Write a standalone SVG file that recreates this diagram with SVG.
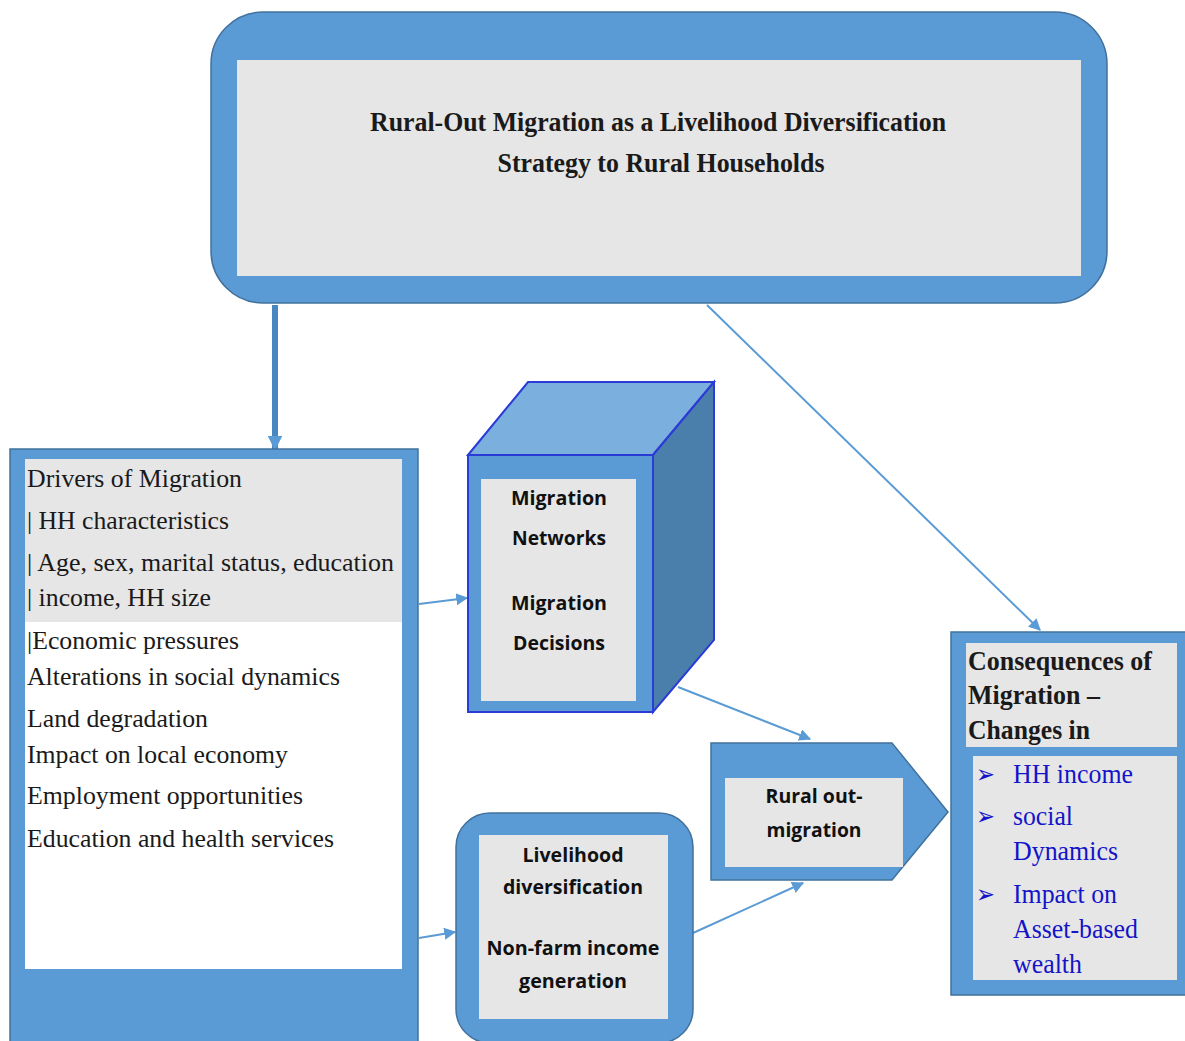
<svg xmlns="http://www.w3.org/2000/svg" width="1185" height="1041" viewBox="0 0 1185 1041">
<style>
.outer{fill:#5b9bd5;stroke:#41719c;stroke-width:1.5}
.gray{fill:#e6e6e6}
.serif{font-family:"Liberation Serif","Times New Roman",serif;fill:#1a1a1a}
.bold{font-weight:bold}
.sans{font-family:"Open Sans","Liberation Sans",sans-serif;font-weight:bold;font-size:20px;fill:#111;text-anchor:middle}
.blue{fill:#1414c8}
.conn{stroke:#5b9bd5;stroke-width:2;fill:none;marker-end:url(#ah)}
</style>
<defs>
<marker id="ah" viewBox="0 0 10 10" refX="9" refY="5" markerWidth="6" markerHeight="6" orient="auto" markerUnits="strokeWidth">
<path d="M0,0 L10,5 L0,10 z" fill="#5b9bd5"/>
</marker>
<marker id="ahs" viewBox="0 0 10 10" refX="9" refY="5" markerWidth="2.4" markerHeight="2.4" orient="auto" markerUnits="strokeWidth">
<path d="M0,0 L10,5 L0,10 z" fill="#5b9bd5"/>
</marker>
</defs>
<rect width="1185" height="1041" fill="#ffffff"/>

<g id="connectors">
<line x1="275" y1="305" x2="275" y2="449" stroke="#4a86c0" stroke-width="6" marker-end="url(#ahs)"/>
<line x1="707" y1="305" x2="1040" y2="630" class="conn"/>
<line x1="419" y1="604" x2="467" y2="598" class="conn"/>
<line x1="678" y1="687" x2="810" y2="739" class="conn"/>
<line x1="419" y1="938" x2="455" y2="932" class="conn"/>
<line x1="693" y1="933" x2="803" y2="883" class="conn"/>
</g>

<g id="title">
<rect x="211" y="12" width="896" height="291" rx="52" class="outer"/>
<rect x="237" y="60" width="844" height="216" class="gray"/>
<text x="658" y="131" class="serif bold" font-size="28" text-anchor="middle" textLength="576" lengthAdjust="spacingAndGlyphs">Rural-Out Migration as a Livelihood Diversification</text>
<text x="661" y="172" class="serif bold" font-size="28" text-anchor="middle" textLength="327" lengthAdjust="spacingAndGlyphs">Strategy to Rural Households</text>
</g>

<g id="drivers">
<rect x="10" y="449" width="408" height="600" class="outer"/>
<rect x="25" y="459" width="377" height="163" class="gray"/>
<rect x="25" y="622" width="377" height="347" fill="#ffffff"/>
<g class="serif" font-size="26">
<text x="27" y="487" textLength="215" lengthAdjust="spacingAndGlyphs">Drivers of Migration</text>
<text x="27" y="529" textLength="202" lengthAdjust="spacingAndGlyphs">| HH characteristics</text>
<text x="27" y="571" textLength="367" lengthAdjust="spacingAndGlyphs">| Age, sex, marital status, education</text>
<text x="27" y="606" textLength="184" lengthAdjust="spacingAndGlyphs">| income, HH size</text>
<text x="27" y="649" textLength="212" lengthAdjust="spacingAndGlyphs">|Economic pressures</text>
<text x="27" y="685" textLength="313" lengthAdjust="spacingAndGlyphs">Alterations in social dynamics</text>
<text x="27" y="727" textLength="181" lengthAdjust="spacingAndGlyphs">Land degradation</text>
<text x="27" y="763" textLength="261" lengthAdjust="spacingAndGlyphs">Impact on local economy</text>
<text x="27" y="804" textLength="276" lengthAdjust="spacingAndGlyphs">Employment opportunities</text>
<text x="27" y="847" textLength="307" lengthAdjust="spacingAndGlyphs">Education and health services</text>
</g>
</g>

<g id="networks">
<polygon points="468,455 528,382 714,382 653,455" fill="#7aafde" stroke="#2b3bd6" stroke-width="2"/>
<polygon points="653,455 714,382 714,640 653,712" fill="#4a7eab" stroke="#2b3bd6" stroke-width="2"/>
<rect x="468" y="455" width="185" height="257" fill="#5b9bd5" stroke="#2b3bd6" stroke-width="2"/>
<rect x="481" y="479" width="155" height="222" class="gray"/>
<text x="559" y="505" class="sans" textLength="96" lengthAdjust="spacingAndGlyphs">Migration</text>
<text x="559" y="545" class="sans" textLength="94" lengthAdjust="spacingAndGlyphs">Networks</text>
<text x="559" y="610" class="sans" textLength="96" lengthAdjust="spacingAndGlyphs">Migration</text>
<text x="559" y="650" class="sans" textLength="92" lengthAdjust="spacingAndGlyphs">Decisions</text>
</g>

<g id="livelihood">
<rect x="456" y="813" width="237" height="230" rx="34" class="outer"/>
<rect x="479" y="835" width="189" height="184" class="gray"/>
<text x="573" y="862" class="sans" textLength="101" lengthAdjust="spacingAndGlyphs">Livelihood</text>
<text x="573" y="894" class="sans" textLength="140" lengthAdjust="spacingAndGlyphs">diversification</text>
<text x="573" y="955" class="sans" textLength="173" lengthAdjust="spacingAndGlyphs">Non-farm income</text>
<text x="573" y="988" class="sans" textLength="108" lengthAdjust="spacingAndGlyphs">generation</text>
</g>

<g id="rural">
<polygon points="711,743 892,743 948,812 892,880 711,880" class="outer"/>
<rect x="725" y="778" width="178" height="89" class="gray"/>
<text x="814" y="803" class="sans" textLength="97" lengthAdjust="spacingAndGlyphs">Rural out-</text>
<text x="814" y="837" class="sans" textLength="95" lengthAdjust="spacingAndGlyphs">migration</text>
</g>

<g id="consequences">
<rect x="951" y="632" width="245" height="363" class="outer"/>
<rect x="966" y="643" width="211" height="104" class="gray"/>
<rect x="973" y="756" width="204" height="224" class="gray"/>
<g class="serif bold" font-size="27">
<text x="968" y="670" textLength="184" lengthAdjust="spacingAndGlyphs">Consequences of</text>
<text x="968" y="704" textLength="132" lengthAdjust="spacingAndGlyphs">Migration –</text>
<text x="968" y="739" textLength="122" lengthAdjust="spacingAndGlyphs">Changes in</text>
</g>
<g font-family="'DejaVu Sans',sans-serif" font-size="26" class="blue">
<text x="976" y="783" textLength="19" lengthAdjust="spacingAndGlyphs">➢</text>
<text x="976" y="825" textLength="19" lengthAdjust="spacingAndGlyphs">➢</text>
<text x="976" y="903" textLength="19" lengthAdjust="spacingAndGlyphs">➢</text>
</g>
<g class="serif blue" font-size="27">
<text x="1013" y="783" class="blue" textLength="120" lengthAdjust="spacingAndGlyphs">HH income</text>
<text x="1013" y="825" class="blue" textLength="60" lengthAdjust="spacingAndGlyphs">social</text>
<text x="1013" y="860" class="blue" textLength="105" lengthAdjust="spacingAndGlyphs">Dynamics</text>
<text x="1013" y="903" class="blue" textLength="104" lengthAdjust="spacingAndGlyphs">Impact on</text>
<text x="1013" y="938" class="blue" textLength="125" lengthAdjust="spacingAndGlyphs">Asset-based</text>
<text x="1013" y="973" class="blue" textLength="69" lengthAdjust="spacingAndGlyphs">wealth</text>
</g>
</g>
</svg>
